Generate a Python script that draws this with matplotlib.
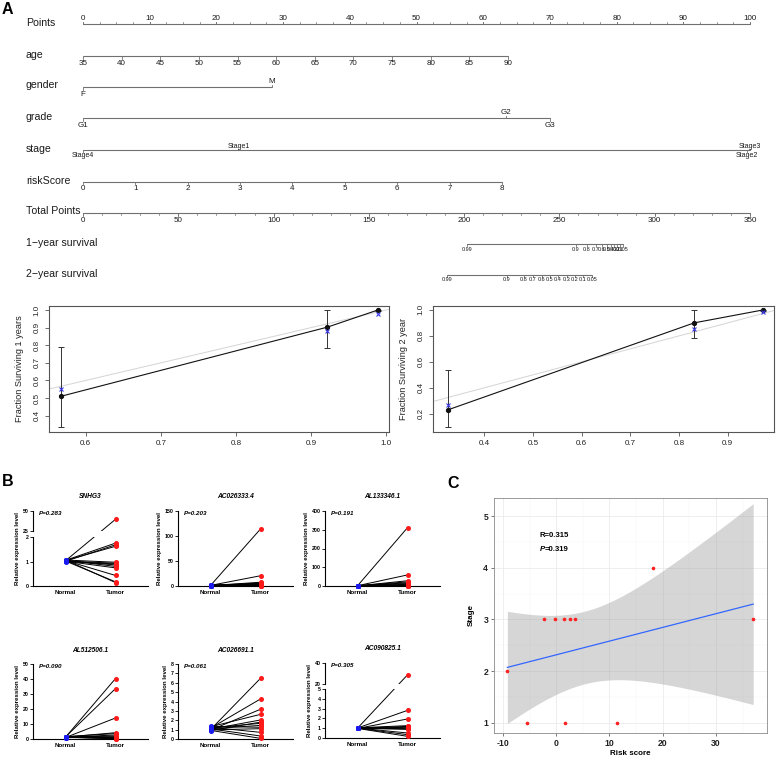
import numpy as np
import matplotlib
matplotlib.use('Agg')
import matplotlib.pyplot as plt
from matplotlib.lines import Line2D
from matplotlib.ticker import MultipleLocator

plt.rcParams['font.family'] = ['Liberation Sans', 'DejaVu Sans']

W, H = 777, 757

# ---------------- A: nomogram (points 0-100, total points 0-350) ----------------
points_ticks = list(range(0, 101, 10))
age_vals = list(range(35, 91, 5))
age_pts_max = 63.7            # points given to age 90
gender_labels = ['F', 'M']
gender_pts = [0, 28.3]
grade_labels = ['G1', 'G2', 'G3']
grade_pts = [0, 63.4, 70.0]
stage_labels = ['Stage4', 'Stage1', 'Stage3', 'Stage2']
stage_pts = [0, 23.3, 100.0, 99.6]
risk_vals = list(range(0, 9))
risk_pts_max = 62.8           # points given to riskScore 8
total_ticks = list(range(0, 351, 50))
surv_labels = ['0.99', '0.9', '0.8', '0.7', '0.6', '0.5', '0.4', '0.3', '0.2', '0.1', '0.05']
surv1_total = [201.5, 258.6, 264.4, 269.1, 272.3, 274.9, 277.0, 278.6, 280.1, 281.7, 283.3]
surv2_total = [191.0, 222.5, 231.4, 236.0, 240.8, 245.0, 249.0, 254.0, 258.0, 262.3, 267.0]

# ---------------- A: calibration curves ----------------
cal1_pred = [0.567, 0.922, 0.989]
cal1_obs = [0.51, 0.903, 1.0]
cal1_lo = [0.335, 0.782, 0.995]
cal1_hi = [0.789, 1.0, 1.0]
cal1_bc = [0.553, 0.88, 0.978]

cal2_pred = [0.326, 0.831, 0.973]
cal2_obs = [0.231, 0.90, 1.0]
cal2_lo = [0.10, 0.78, 0.995]
cal2_hi = [0.535, 1.0, 1.0]
cal2_bc = [0.27, 0.855, 0.98]

# ---------------- B: paired expression ----------------
snhg3_normal = [1.03, 1.05, 1.01, 1.04, 1.06, 1.02, 1.0, 1.03, 1.05, 1.01, 1.04, 1.02, 1.06]
snhg3_tumor = [39.6, 1.75, 1.68, 1.62, 0.97, 0.93, 0.90, 0.86, 0.80, 0.74, 0.43, 0.17, 0.14]
ac026333_normal = [1.0, 1.2, 0.9, 1.1, 1.0, 0.8, 1.3, 1.0, 0.9, 1.1, 1.2, 1.0, 0.9]
ac026333_tumor = [114.0, 20.5, 7.5, 6.0, 5.0, 4.2, 3.4, 2.6, 2.0, 1.4, 0.9, 0.5, 0.2]
al133346_normal = [1.0, 1.5, 0.8, 1.2, 1.0, 2.0, 0.7, 1.1, 1.3, 0.9, 1.0, 1.4, 0.8]
al133346_tumor = [311.0, 59.0, 28.0, 22.0, 17.0, 13.0, 9.0, 6.0, 4.0, 2.5, 1.5, 0.8, 0.3]
al512506_normal = [1.2, 1.4, 1.0, 1.3, 1.6, 1.1, 1.2, 0.9, 1.5, 1.3, 1.0, 1.2, 1.4]
al512506_tumor = [40.3, 33.6, 14.0, 4.2, 3.6, 2.7, 2.0, 1.5, 1.1, 0.8, 0.5, 0.3, 0.1]
ac026691_normal = [1.0, 1.15, 0.95, 1.3, 1.05, 0.9, 1.2, 1.1, 1.35, 0.98, 1.25, 1.08, 0.92]
ac026691_tumor = [6.47, 4.27, 3.17, 2.63, 2.03, 1.8, 1.67, 1.45, 1.25, 1.1, 0.71, 0.32, 0.07]
ac090825_normal = [1.0, 1.02, 0.98, 1.04, 1.0, 0.97, 1.03, 1.01, 0.99, 1.02, 1.0, 0.98]
ac090825_tumor = [28.7, 2.82, 1.94, 1.26, 1.18, 1.10, 1.02, 0.95, 0.88, 0.51, 0.34, 0.17]
gene_names = ['SNHG3', 'AC026333.4', 'AL133346.1', 'AL512506.1', 'AC026691.1', 'AC090825.1']
gene_p = ['0.283', '0.203', '0.191', '0.090', '0.061', '0.305']

# ---------------- C: stage vs risk score ----------------
risk_score = [-9.19, -5.44, -2.38, -0.19, 1.38, 2.5, 3.56, 1.56, 11.4, 18.1, 37.0]
stage = [2, 1, 3, 3, 3, 3, 3, 1, 1, 4, 3]
corr_r = '0.315'
corr_p = '0.319'


fig = plt.figure(figsize=(W / 100, H / 100), dpi=100)


def box(l, t, r, b):
    return [l / W, 1 - b / H, (r - l) / W, (b - t) / H]


# ======================= nomogram =======================
nom = fig.add_axes([0, 1 - 290 / H, 1, 290 / H])
nom.set_xlim(0, W)
nom.set_ylim(290, 0)
nom.axis('off')
P0, P100 = 83, 750
ncol = '#707070'


def px_pts(p):
    return P0 + (P100 - P0) * np.asarray(p, float) / 100


def px_tot(t):
    return P0 + (P100 - P0) * np.asarray(t, float) / 350


def nom_row(y, name, xs, labels, sides, fs=5.8, tick=2.5, gap=1.2, minor=None):
    nom.text(26, y - 1.5, name, fontsize=7.6, va='center', ha='left', color='#1a1a1a')
    xs = np.atleast_1d(xs)
    nom.plot([xs.min(), xs.max()], [y, y], color=ncol, lw=0.8, solid_capstyle='butt')
    for x, lab, s in zip(xs, labels, sides):
        d = -1 if s == 'up' else 1
        nom.plot([x, x], [y, y + d * tick], color=ncol, lw=0.6)
        nom.text(x, y + d * (tick + gap), lab, ha='center',
                 va='baseline' if s == 'up' else 'top', fontsize=fs, color='#1a1a1a')
    if minor is not None:
        mx, mside = minor
        d = -1 if mside == 'up' else 1
        for x in mx:
            nom.plot([x, x], [y, y + d * 1.6], color=ncol, lw=0.5)


nom_row(24, 'Points', px_pts(points_ticks), [str(v) for v in points_ticks], ['up'] * 11,
        minor=(px_pts(np.arange(0, 100.1, 2.5)), 'up'))
nom_row(56, 'age', px_pts([(a - 35) / 55 * age_pts_max for a in age_vals]),
        [str(a) for a in age_vals], ['down'] * len(age_vals))
nom_row(87, 'gender', px_pts(gender_pts), gender_labels, ['down', 'up'])
nom_row(118, 'grade', px_pts(grade_pts), grade_labels, ['down', 'up', 'down'])
nom_row(150, 'stage', px_pts(stage_pts), stage_labels, ['down', 'up', 'up', 'down'],
        fs=5.0, tick=1.5, gap=0.8)
nom_row(182, 'riskScore', px_pts([r / 8 * risk_pts_max for r in risk_vals]),
        [str(r) for r in risk_vals], ['down'] * 9, tick=2, gap=0.5)
nom_row(213, 'Total Points', px_tot(total_ticks), [str(t) for t in total_ticks], ['down'] * 8,
        minor=(px_tot(np.arange(0, 351, 10)), 'down'))
nom_row(244, '1\u2212year survival', px_tot(surv1_total), surv_labels, ['down'] * 11,
        fs=4.0, tick=1.8, gap=0.8)
nom_row(275, '2\u2212year survival', px_tot(surv2_total), surv_labels, ['down'] * 11,
        fs=4.0, tick=1.8, gap=0.5)


# ======================= calibration =======================
def calib(bx, pred, obs, lo, hi, bc, xlim, ylim, xticks, yticks, yfmt, ylabel):
    a = fig.add_axes(box(*bx))
    pred, obs, lo, hi = map(np.asarray, (pred, obs, lo, hi))
    a.plot([0, 1.2], [0, 1.2], color='#d4d4d4', lw=0.7, zorder=1)
    a.errorbar(pred, obs, yerr=[obs - lo, hi - obs], fmt='none', ecolor='#333333',
               elinewidth=0.7, capsize=2.3, capthick=0.7, zorder=2)
    a.plot(pred, obs, '-o', color='#111111', lw=0.8, ms=2.8, zorder=3)
    a.plot(pred, bc, 'x', color='#3a3ae8', ms=3.2, mew=0.8, zorder=4)
    a.set_xlim(*xlim)
    a.set_ylim(*ylim)
    a.set_xticks(xticks, [f'{v:.1f}' for v in xticks], fontsize=5.8, color='#222')
    a.set_yticks(yticks, [yfmt.format(v) for v in yticks], fontsize=5.8, color='#222',
                 rotation=90, va='center')
    for s in a.spines.values():
        s.set_color('#555555')
        s.set_linewidth(0.8)
    a.tick_params(length=3, width=0.6, color='#555555', pad=3)
    a.set_ylabel(ylabel, fontsize=6.6, labelpad=7, color='#222')
    return a


calib((49, 306, 389, 432), cal1_pred, cal1_obs, cal1_lo, cal1_hi, cal1_bc,
      (0.551, 1.004), (0.307, 1.023), [0.6, 0.7, 0.8, 0.9, 1.0],
      [0.4, 0.5, 0.6, 0.7, 0.8, 0.9, 1.0], '{:.1f}', 'Fraction Surviving 1 years')
calib((433, 306, 774, 432), cal2_pred, cal2_obs, cal2_lo, cal2_hi, cal2_bc,
      (0.295, 0.995), (0.06, 1.03), [0.4, 0.5, 0.6, 0.7, 0.8, 0.9],
      [0.2, 0.4, 0.6, 0.8, 1.0], '{:.1f}', 'Fraction Surviving 2 year')

# ======================= B: paired plots =======================
red = '#ff1a1a'
blue = '#1a1aee'
BW = 115
XL = (-0.65, 1.65)


def style_b(a, ticks, show_x=True):
    for s in ('top', 'right'):
        a.spines[s].set_visible(False)
    a.spines['left'].set_linewidth(0.8)
    a.spines['bottom'].set_linewidth(0.8)
    a.set_xlim(*XL)
    a.set_yticks(ticks, [f'{t:g}' for t in ticks], fontsize=3.8, fontweight='bold')
    a.tick_params(axis='y', length=2.2, width=0.6, pad=1)
    if show_x:
        a.set_xticks([0, 1], ['Normal', 'Tumor'], fontsize=4.5, fontweight='bold')
        a.tick_params(axis='x', length=0, pad=3)
    else:
        a.spines['bottom'].set_visible(False)
        a.set_xticks([])


def to_fig(a, x, y):
    return fig.transFigure.inverted().transform(a.transData.transform((x, y)))


def paired(left, top, bottom, normal, tumor, name, pval, ylim, ticks, brk=None):
    if brk is None:
        lo = fig.add_axes(box(left, top, left + BW, bottom))
        lo.set_ylim(*ylim)
        style_b(lo, ticks)
        up = lo
        lo.set_ylabel('Relative expression level', fontsize=4.4, fontweight='bold', labelpad=1.5)
    else:
        lo_top, up_bot, up_lim, up_ticks = brk
        lo = fig.add_axes(box(left, lo_top, left + BW, bottom))
        up = fig.add_axes(box(left, top, left + BW, up_bot))
        lo.set_ylim(*ylim)
        up.set_ylim(*up_lim)
        style_b(lo, ticks)
        style_b(up, up_ticks, show_x=False)
        lo.set_ylabel('Relative expression level', fontsize=4.4, fontweight='bold')
        yc = (bottom - (top + bottom) / 2) / (bottom - lo_top)
        lo.yaxis.set_label_coords(-13 / BW, yc)
    for n, t in zip(normal, tumor):
        if t <= ylim[1]:
            lo.plot([0, 1], [n, t], color='k', lw=0.7, zorder=2)
            lo.plot(1, t, 'o', color=red, ms=2.6, clip_on=False, zorder=4)
        else:
            p0 = to_fig(lo, 0, n)
            p1 = to_fig(up, 1, t)
            for a in (lo, up):
                ln = Line2D([p0[0], p1[0]], [p0[1], p1[1]], transform=fig.transFigure,
                            color='k', lw=0.7, zorder=2)
                a.add_artist(ln)
                ln.set_clip_path(a.patch)
            up.plot(1, t, 'o', color=red, ms=2.6, clip_on=False, zorder=4)
        lo.plot(0, n, 'o', color=blue, ms=2.6, clip_on=False, zorder=5)
    up.set_title(name, fontsize=4.8, fontweight='bold', fontstyle='italic', pad=9)
    up.text(0.05, 1.0, 'P=' + pval, transform=up.transAxes, fontsize=4.5,
            fontweight='bold', fontstyle='italic', va='top', ha='left')


lists_normal = [snhg3_normal, ac026333_normal, al133346_normal,
                al512506_normal, ac026691_normal, ac090825_normal]
lists_tumor = [snhg3_tumor, ac026333_tumor, al133346_tumor,
               al512506_tumor, ac026691_tumor, ac090825_tumor]
col_left = [33, 178, 325]

paired(col_left[0], 511, 586, lists_normal[0], lists_tumor[0], gene_names[0], gene_p[0],
       (0, 2), [0, 1, 2], brk=(537, 531, (25, 50), [25, 50]))
paired(col_left[1], 511, 586, lists_normal[1], lists_tumor[1], gene_names[1], gene_p[1],
       (0, 150), [0, 50, 100, 150])
paired(col_left[2], 511, 586, lists_normal[2], lists_tumor[2], gene_names[2], gene_p[2],
       (0, 400), [0, 100, 200, 300, 400])
paired(col_left[0], 664, 739, lists_normal[3], lists_tumor[3], gene_names[3], gene_p[3],
       (0, 50), [0, 10, 20, 30, 40, 50])
paired(col_left[1], 664, 739, lists_normal[4], lists_tumor[4], gene_names[4], gene_p[4],
       (0, 8), list(range(0, 9)))
paired(col_left[2], 663, 738, lists_normal[5], lists_tumor[5], gene_names[5], gene_p[5],
       (0, 5), [0, 1, 2, 3, 4, 5], brk=(689, 684, (20, 40), [20, 40]))

# ======================= C: scatter + lm fit =======================
axc = fig.add_axes(box(494, 498, 767, 733))
x = np.asarray(risk_score, float)
y = np.asarray(stage, float)
slope, icpt = np.polyfit(x, y, 1)
xs = np.linspace(x.min(), x.max(), 120)
fit = icpt + slope * xs
resid = y - (icpt + slope * x)
s = np.sqrt(np.sum(resid ** 2) / (len(x) - 2))
sxx = np.sum((x - x.mean()) ** 2)
half = 2.262 * s * np.sqrt(1 / len(x) + (xs - x.mean()) ** 2 / sxx)
axc.fill_between(xs, fit - half, fit + half, color='#999999', alpha=0.4, lw=0, zorder=2)
axc.plot(xs, fit, color='#3366ff', lw=0.9, zorder=3)
axc.plot(x, y, 'o', color='#ff2020', ms=1.6, zorder=4)
axc.set_xlim(-11.7, 39.6)
axc.set_ylim(0.8, 5.35)
axc.set_xticks([-10, 0, 10, 20, 30], ['-10', '0', '10', '20', '30'],
               fontsize=6.2, fontweight='bold', color='#222')
axc.set_yticks([1, 2, 3, 4, 5], ['1', '2', '3', '4', '5'],
               fontsize=6.2, fontweight='bold', color='#222')
axc.xaxis.set_minor_locator(MultipleLocator(5))
axc.yaxis.set_minor_locator(MultipleLocator(0.5))
axc.tick_params(which='major', length=2.2, width=0.5, color='#444', pad=2)
axc.tick_params(which='minor', length=0)
axc.grid(which='major', color='#ebebeb', lw=0.6, zorder=0)
axc.grid(which='minor', color='#f4f4f4', lw=0.35, zorder=0)
axc.set_axisbelow(True)
for sp in axc.spines.values():
    sp.set_color('#8a8a8a')
    sp.set_linewidth(0.6)
axc.set_xlabel('Risk score', fontsize=5.8, fontweight='bold', labelpad=1.5)
axc.set_ylabel('Stage', fontsize=5.8, fontweight='bold', labelpad=6)
axc.text(-3.1, 4.62, 'R=' + corr_r, fontsize=5.6, fontweight='bold', va='center', ha='left')
pt = axc.text(-3.1, 4.36, 'P', fontsize=5.6, fontweight='bold', fontstyle='italic',
              va='center', ha='left')
axc.annotate('=' + corr_p, xy=(1, 0), xycoords=pt, fontsize=5.6, fontweight='bold',
             va='bottom', ha='left')

# panel letters
fig.text(2 / W, 1 - 2 / H, 'A', fontsize=11.5, fontweight='bold', va='top')
fig.text(2 / W, 1 - 474 / H, 'B', fontsize=11.5, fontweight='bold', va='top')
fig.text(447 / W, 1 - 476 / H, 'C', fontsize=11.5, fontweight='bold', va='top')

fig.savefig('out.png', dpi=100)
